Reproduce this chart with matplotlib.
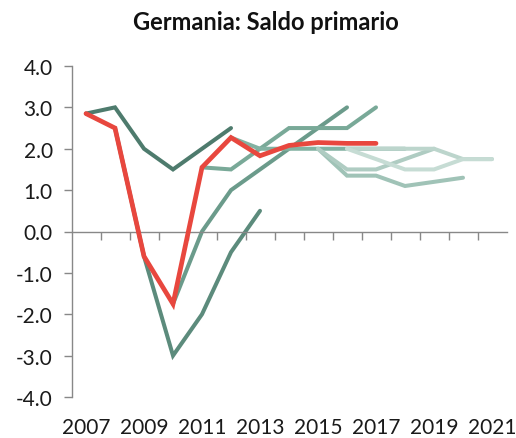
import numpy as np
import matplotlib
matplotlib.use("Agg")
import matplotlib.pyplot as plt
from matplotlib.transforms import blended_transform_factory

plt.rcParams['axes.unicode_minus'] = False
plt.rcParams['font.family'] = ['Lato', 'DejaVu Sans']

title = "Germania: Saldo primario"
years = list(range(2007, 2022))
year_labels = [str(y) for y in years]

# vintages: (start year, values)
v1_start, v1 = 2007, [2.85, 3.0, 2.0, 1.5, 2.0, 2.5]
v2_start, v2 = 2008, [2.5, -0.6, -3.0, -2.0, -0.5, 0.5]
v3_start, v3 = 2010, [-1.75, 0.0, 1.0, 1.5, 2.0, 2.5, 3.0]
v4_start, v4 = 2011, [1.55, 1.5, 2.0, 2.5, 2.5, 2.5, 3.0]
v5_start, v5 = 2012, [2.27, 2.0, 2.0, 2.0, 2.0, 2.0, 2.0]
v6_start, v6 = 2015, [2.0, 1.35, 1.35, 1.1, 1.2, 1.3]
v7_start, v7 = 2015, [2.0, 1.5, 1.5, 1.75, 2.0]
v8_start, v8 = 2016, [2.0, 2.0, 2.0, 2.0, 1.75, 1.75]
v9_start, v9 = 2016, [2.0, 1.75, 1.5, 1.5, 1.75, 1.75]
actual_start, actual = 2007, [2.85, 2.5, -0.6, -1.75, 1.55, 2.27, 1.83, 2.08, 2.15, 2.13, 2.13]

vintages = [(v1_start, v1), (v2_start, v2), (v3_start, v3), (v4_start, v4),
            (v5_start, v5), (v6_start, v6), (v7_start, v7), (v8_start, v8), (v9_start, v9)]
colors = ['#4e7b6d', '#5c8b7c', '#6b9b8b', '#79a998', '#82b2a2',
          '#a0c3b7', '#afccc2', '#bcd5cc', '#c6dcd4']

fig = plt.figure(figsize=(5.16, 4.39), dpi=100)
ax = fig.add_axes([71.5/516, 41/439, 435/516, 331/439])

def xpos(start, vals):
    i0 = years.index(start)
    return np.arange(i0, i0 + len(vals))

for (s, vals), c in zip(vintages, colors):
    ax.plot(xpos(s, vals), vals, color=c, lw=2.9, solid_capstyle='round',
            solid_joinstyle='miter', zorder=2)
ax.plot(xpos(actual_start, actual), actual, color='#e8473e', lw=3.4,
        solid_capstyle='round', solid_joinstyle='miter', zorder=3)

ax.set_xlim(-0.5, len(years) - 0.5)
ax.set_ylim(-4.0, 4.0)
ax.set_yticks(np.arange(-4, 5, 1))
ax.set_yticklabels([f"{v:.1f}" for v in np.arange(-4, 5, 1)])

axis_col = '#888888'
for sp in ['top', 'right']:
    ax.spines[sp].set_visible(False)
ax.spines['left'].set_color(axis_col)
ax.spines['left'].set_linewidth(1.0)
ax.spines['bottom'].set_position(('data', 0))
ax.spines['bottom'].set_color(axis_col)
ax.spines['bottom'].set_linewidth(1.0)

ax.set_xticks(np.arange(0.5, len(years) - 1, 1))
ax.set_xticklabels([])
ax.tick_params(axis='x', direction='out', length=5.5, width=1.0, color=axis_col)
ax.tick_params(axis='y', direction='out', length=5.5, width=1.0, color=axis_col,
               pad=8, labelsize=15, labelcolor='#1a1a1a')

tr = blended_transform_factory(ax.transData, ax.transAxes)
for i, lab in enumerate(year_labels):
    if i % 2 == 0:
        ax.annotate(lab, xy=(i, 0), xycoords=tr, xytext=(0, -21.5),
                    textcoords='offset points', ha='center', va='center',
                    fontsize=15, color='#1a1a1a')

fig.text(266/516, 1 - 22/439, title, ha='center', va='center',
         fontsize=17, fontweight='bold', color='#111111')

fig.savefig('out.png', dpi=100)
